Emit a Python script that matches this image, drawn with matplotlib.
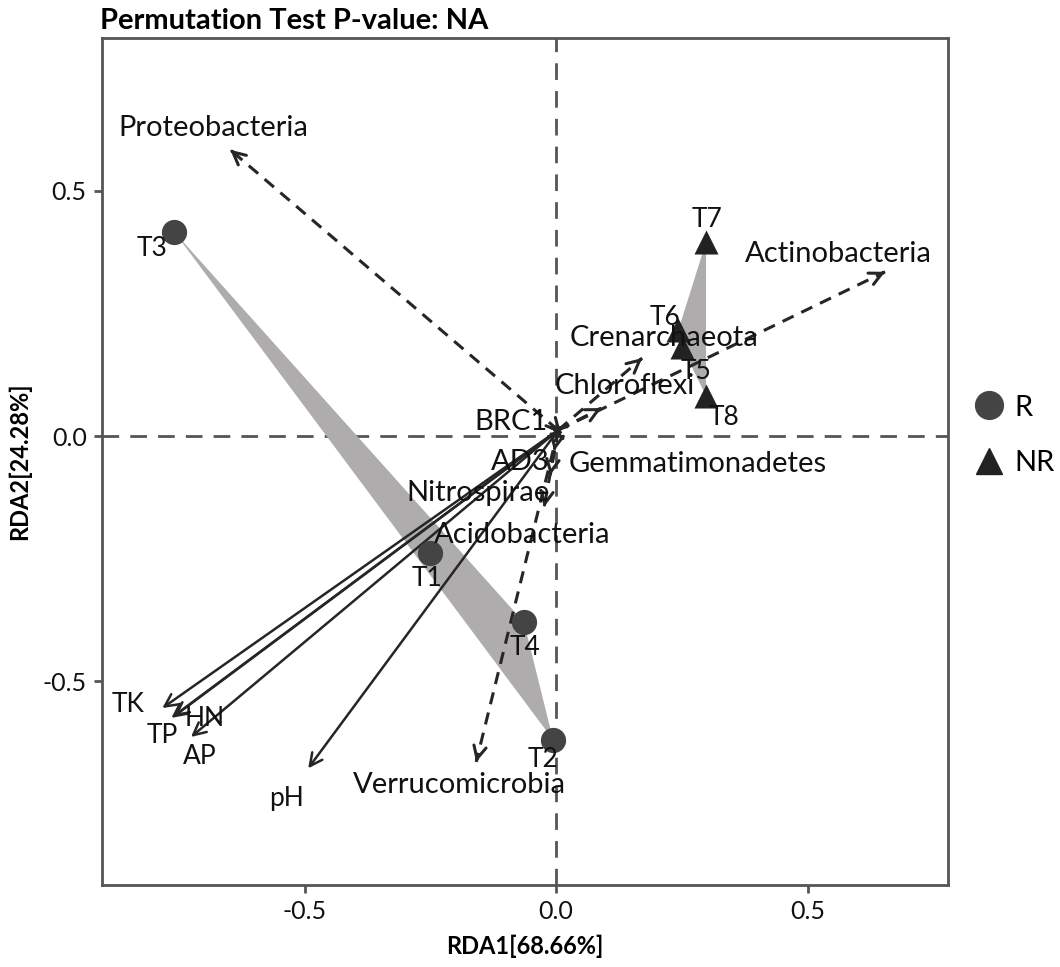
import matplotlib
matplotlib.use("Agg")
import matplotlib.pyplot as plt
from matplotlib.lines import Line2D
import numpy as np

plt.rcParams['font.family'] = ['Lato', 'DejaVu Sans']

# ---- data ----
samples = ["T1", "T2", "T3", "T4", "T5", "T6", "T7", "T8"]
groups = ["R", "R", "R", "R", "NR", "NR", "NR", "NR"]
rda1 = [-0.250, -0.006, -0.759, -0.064, 0.250, 0.243, 0.298, 0.298]
rda2 = [-0.239, -0.620, 0.416, -0.380, 0.182, 0.216, 0.396, 0.082]

env_names = ["TK", "TP", "HN", "AP", "pH"]
env_x = [-0.783, -0.765, -0.760, -0.726, -0.493]
env_y = [-0.555, -0.575, -0.572, -0.614, -0.678]

sp_names = ["Proteobacteria", "Actinobacteria", "Crenarchaeota", "Chloroflexi",
            "Verrucomicrobia", "Acidobacteria", "Nitrospirae", "AD3", "BRC1",
            "Gemmatimonadetes"]
sp_x = [-0.648, 0.654, 0.171, 0.090, -0.159, -0.024, -0.012, -0.004, -0.012, 0.010]
sp_y = [0.584, 0.335, 0.159, 0.057, -0.665, -0.145, -0.080, -0.030, 0.018, 0.005]

origin = (0.004, 0.012)

xlabel = "RDA1[68.66%]"
ylabel = "RDA2[24.28%]"
title = "Permutation Test P-value: NA"
xticks = [-0.5, 0.0, 0.5]
yticks = [-0.5, 0.0, 0.5]

# ---- label placement (layout) ----
sample_lab = {"T1": (-0.256, -0.290), "T2": (-0.026, -0.660), "T3": (-0.803, 0.382),
              "T4": (-0.062, -0.431), "T5": (0.278, 0.131), "T6": (0.217, 0.241),
              "T7": (0.300, 0.441), "T8": (0.334, 0.037)}
env_lab = {"TK": (-0.851, -0.547), "TP": (-0.783, -0.610), "HN": (-0.698, -0.576),
           "AP": (-0.708, -0.653), "pH": (-0.537, -0.739)}
sp_lab = {"Proteobacteria": (-0.682, 0.629), "Actinobacteria": (0.561, 0.371),
          "Crenarchaeota": (0.215, 0.200), "Chloroflexi": (0.137, 0.102),
          "Verrucomicrobia": (-0.193, -0.712), "Acidobacteria": (-0.068, -0.202),
          "Nitrospirae": (-0.155, -0.116), "AD3": (-0.072, -0.053),
          "BRC1": (-0.089, 0.029), "Gemmatimonadetes": (0.282, -0.057)}

fig = plt.figure(figsize=(10.6, 9.67), dpi=100)
ax = fig.add_axes([0.0962, 0.0848, 0.7981, 0.8759])
ax.set_xlim(-0.903, 0.779)
ax.set_ylim(-0.916, 0.812)

frame_col = "#555555"
for s in ax.spines.values():
    s.set_color(frame_col)
    s.set_linewidth(2)

ax.axhline(0, color=frame_col, lw=2, ls=(0, (6, 4)), zorder=1)
ax.axvline(0, color=frame_col, lw=2, ls=(0, (6, 4)), zorder=1)


def hull(pts):
    pts = sorted(set(pts))
    if len(pts) <= 2:
        return pts
    def cross(o, a, b):
        return (a[0]-o[0])*(b[1]-o[1]) - (a[1]-o[1])*(b[0]-o[0])
    lower, upper = [], []
    for p in pts:
        while len(lower) >= 2 and cross(lower[-2], lower[-1], p) <= 0:
            lower.pop()
        lower.append(p)
    for p in reversed(pts):
        while len(upper) >= 2 and cross(upper[-2], upper[-1], p) <= 0:
            upper.pop()
        upper.append(p)
    return lower[:-1] + upper[:-1]

x = np.array(rda1)
y = np.array(rda2)
g = np.array(groups)
for grp in ["R", "NR"]:
    m = g == grp
    h = hull(list(zip(x[m], y[m])))
    ax.fill([p[0] for p in h], [p[1] for p in h], color="#AEACAC", lw=0, zorder=2)

# environmental arrows (solid)
arrow_col = "#262626"
for n, ex, ey in zip(env_names, env_x, env_y):
    ax.annotate("", xy=(ex, ey), xytext=origin,
                arrowprops=dict(arrowstyle="->,head_length=0.9,head_width=0.45",
                                color=arrow_col, lw=1.8, shrinkA=0, shrinkB=0),
                zorder=4)
    lx, ly = env_lab[n]
    ax.text(lx, ly, n, fontsize=19, ha="center", va="center", color="#111111", zorder=6)

# species arrows (dashed)
for n, sx, sy in zip(sp_names, sp_x, sp_y):
    ax.plot([origin[0], sx], [origin[1], sy], color=arrow_col, lw=2.2,
            ls=(0, (4, 2.8)), zorder=4, solid_capstyle="butt")
    dx, dy = sx - origin[0], sy - origin[1]
    L = np.hypot(dx, dy)
    back = (sx - dx / L * 0.005, sy - dy / L * 0.005)
    ax.annotate("", xy=(sx, sy), xytext=back,
                arrowprops=dict(arrowstyle="->,head_length=0.9,head_width=0.45",
                                color=arrow_col, lw=2.2, shrinkA=0, shrinkB=0),
                zorder=4)
    lx, ly = sp_lab[n]
    ax.text(lx, ly, n, fontsize=21, ha="center", va="center", color="#111111", zorder=6)

# sample points
for grp, mk, col, sz in [("R", "o", "#444444", 330), ("NR", "^", "#222222", 300)]:
    m = g == grp
    ax.scatter(x[m], y[m], marker=mk, s=sz, color=col, lw=0, zorder=5)
for n, sx, sy in zip(samples, rda1, rda2):
    lx, ly = sample_lab[n]
    ax.text(lx, ly, n, fontsize=19, ha="center", va="center", color="#111111", zorder=6)

ax.set_xticks(xticks)
ax.set_yticks(yticks)
ax.set_xticklabels([f"{t:.1f}" for t in xticks], fontsize=18)
ax.set_yticklabels([f"{t:.1f}" for t in yticks], fontsize=18)
ax.tick_params(direction="out", length=6, width=2, color=frame_col, labelcolor="#111111", pad=5)

ax.set_xlabel(xlabel, fontsize=17, fontweight="bold", labelpad=8)
ax.set_ylabel(ylabel, fontsize=17, fontweight="bold", labelpad=8)
fig.text(0.0943, 0.978, title, fontsize=21, fontweight="bold", ha="left", va="center")

handles = [Line2D([], [], marker="o", ls="", color="#444444", markersize=20),
           Line2D([], [], marker="^", ls="", color="#222222", markersize=19)]
fig.legend(handles, ["R", "NR"], loc="center left", bbox_to_anchor=(0.903, 0.55),
           frameon=False, fontsize=21, labelspacing=1.0, handletextpad=0.35,
           handlelength=1.0, borderaxespad=0.2)

fig.savefig("out.png", dpi=100)
